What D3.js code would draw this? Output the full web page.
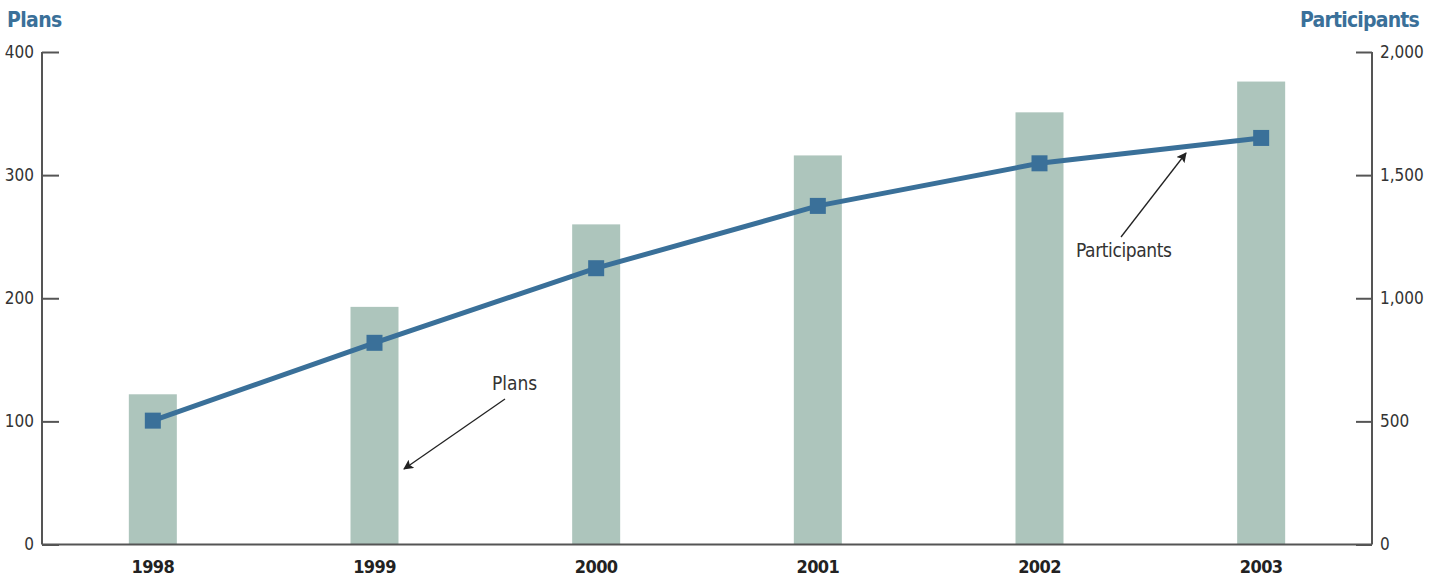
<!DOCTYPE html>
<html>
<head>
<meta charset="utf-8">
<style>
  body { margin: 0; padding: 0; background: #fff; }
  svg { display: block; font-family: "Liberation Sans Narrow", "DejaVu Sans Condensed", "Roboto Condensed", sans-serif; }
  .tick text { fill: #333; font-size: 17px; }
  .year text { font-weight: bold; font-size: 18px; fill: #222; letter-spacing: -0.6px; }
</style>
<script src="https://cdnjs.cloudflare.com/ajax/libs/d3/7.8.5/d3.min.js"></script>
</head>
<body>
<svg width="1435" height="577"></svg>
<script>
const years = ['1998', '1999', '2000', '2001', '2002', '2003'];
const plans = [122, 193, 260, 316, 351, 376];
const participants = [503, 819, 1122, 1375, 1548, 1651];
const planTicks = [0, 100, 200, 300, 400];
const partTicks = [0, 500, 1000, 1500, 2000];

const svg = d3.select('svg');
const mLeft = 42, mRight = 1372, mTop = 52, mBottom = 544.5;
const blue = '#3a7099', green = '#adc5bc', axisCol = '#555';

const x = d3.scaleBand().domain(years).range([mLeft, mRight]);
const yL = d3.scaleLinear().domain([0, 400]).range([mBottom, mTop]);
const yR = d3.scaleLinear().domain([0, 2000]).range([mBottom, mTop]);
const cx = i => x(years[i]) + x.bandwidth() / 2;

// bars
svg.append('g').selectAll('rect').data(plans).join('rect')
  .attr('x', (d, i) => cx(i) - 24)
  .attr('width', 48)
  .attr('y', d => yL(d))
  .attr('height', d => mBottom - yL(d))
  .attr('fill', green);

// axes
const gL = svg.append('g').attr('transform', `translate(${mLeft},0)`)
  .call(d3.axisRight(yL).tickValues(planTicks).tickSize(17).tickFormat(d3.format('d')));
gL.selectAll('.tick text').attr('x', -8).attr('text-anchor', 'end');
const gR = svg.append('g').attr('transform', `translate(${mRight},0)`)
  .call(d3.axisLeft(yR).tickValues(partTicks).tickSize(16).tickFormat(d3.format(',')));
gR.selectAll('.tick text').attr('x', 8).attr('text-anchor', 'start');
[gL, gR].forEach(g => {
  g.attr('font-family', null).attr('font-size', null);
  g.select('.domain').attr('stroke', axisCol).attr('stroke-width', 2).attr('d', `M0,${mTop}V${mBottom}`);
  g.selectAll('.tick line').attr('stroke', axisCol).attr('stroke-width', 2);
});
svg.append('line').attr('x1', mLeft).attr('x2', mRight).attr('y1', mBottom).attr('y2', mBottom)
  .attr('stroke', axisCol).attr('stroke-width', 2);

// year labels
svg.append('g').attr('class', 'year')
  .attr('transform', `translate(0,${mBottom})`)
  .call(d3.axisBottom(x).tickSize(0).tickPadding(16))
  .call(g => g.attr('font-family', null).attr('font-size', null).select('.domain').remove());

// line
const line = d3.line().x((d, i) => cx(i)).y(d => yR(d));
svg.append('path').datum(participants).attr('d', line)
  .attr('fill', 'none').attr('stroke', blue).attr('stroke-width', 5);
svg.append('g').selectAll('rect').data(participants).join('rect')
  .attr('x', (d, i) => cx(i) - 8)
  .attr('y', d => yR(d) - 8)
  .attr('width', 16).attr('height', 16).attr('fill', blue);

// titles
svg.append('text').attr('x', 7).attr('y', 27).text('Plans')
  .attr('font-weight', 'bold').attr('font-size', 21).attr('letter-spacing', -0.6).attr('fill', blue);
svg.append('text').attr('x', 1419).attr('y', 27).attr('text-anchor', 'end').text('Participants')
  .attr('font-weight', 'bold').attr('font-size', 21).attr('letter-spacing', -0.8).attr('fill', blue);

// annotations
svg.append('defs').append('marker').attr('id', 'arr')
  .attr('viewBox', '0 0 10 10').attr('refX', 9).attr('refY', 5)
  .attr('markerWidth', 10).attr('markerHeight', 10).attr('markerUnits', 'userSpaceOnUse')
  .attr('orient', 'auto')
  .append('path').attr('d', 'M0,0L10,5L0,10L2,5Z').attr('fill', '#222');

svg.append('text').attr('x', 492).attr('y', 390).text('Plans')
  .attr('font-size', 19).attr('fill', '#333');
svg.append('line').attr('x1', 505).attr('y1', 399).attr('x2', 404).attr('y2', 469)
  .attr('stroke', '#222').attr('stroke-width', 1.3).attr('marker-end', 'url(#arr)');

svg.append('text').attr('x', 1076).attr('y', 257).text('Participants')
  .attr('font-size', 19).attr('letter-spacing', -0.4).attr('fill', '#333');
svg.append('line').attr('x1', 1121).attr('y1', 237).attr('x2', 1186).attr('y2', 153)
  .attr('stroke', '#222').attr('stroke-width', 1.3).attr('marker-end', 'url(#arr)');
</script>
</body>
</html>
